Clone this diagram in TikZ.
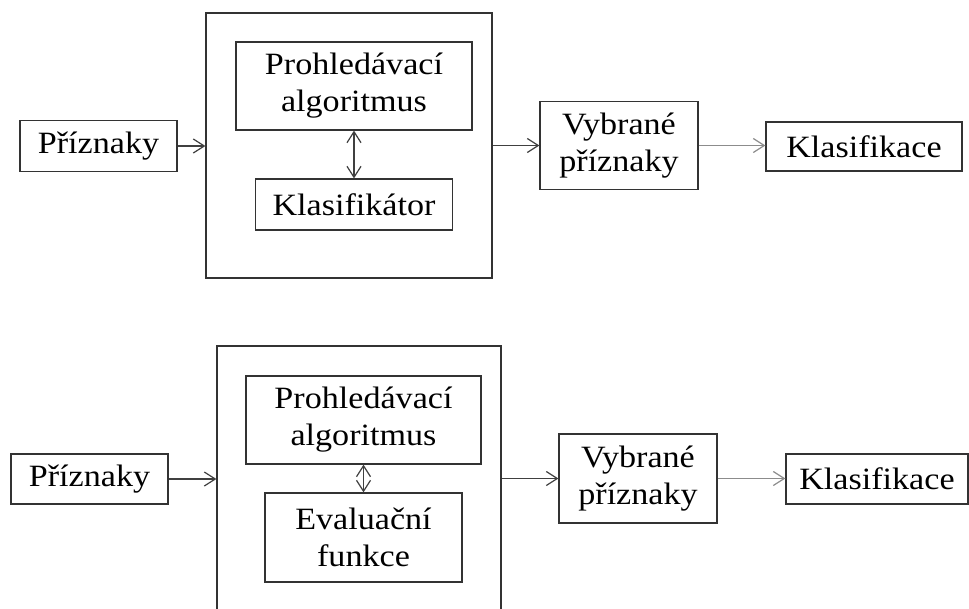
\documentclass[tikz,border=0pt]{standalone}
\usepackage{fontspec}
\setmainfont{Liberation Serif}[FakeStretch=1.1]
\usetikzlibrary{arrows.meta}
\begin{document}
\begin{tikzpicture}[x=1pt,y=-1pt,
  box/.style={draw=black!80, line width=1.2pt, inner sep=0pt, align=center,
    font=\fontsize{31}{37}\selectfont},
  frame/.style={draw=black!80, line width=1.2pt, inner sep=0pt},
  tip/.tip={Straight Barb[length=11pt,width=14pt,line width=1.2pt]},
  arr/.style={-tip, line width=1.2pt, draw=black!75},
  darr/.style={tip-tip, line width=1.2pt, draw=black!75},
  garr/.style={-tip, line width=1.2pt, draw=black!45}
]
\useasboundingbox (0,0) rectangle (969,608);
\clip (0,0) rectangle (969,608);
\fill[white] (0,0) rectangle (969,608);

% ---------- top diagram ----------
\node[frame, minimum width=286, minimum height=265] (big1) at (349,145.5) {};
\node[box, minimum width=157, minimum height=51] (p1) at (98.5,146) {Příznaky};
\node[box, minimum width=236, minimum height=88] (s1) at (354,86) {Prohledávací\\algoritmus};
\node[box, minimum width=197, minimum height=51] (k1) at (354,204.5) {Klasifikátor};
\node[box, minimum width=158, minimum height=88] (v1) at (619,145.5) {Vybrané\\příznaky};
\node[box, minimum width=196, minimum height=49] (c1) at (864,146.5) {Klasifikace};

\draw[arr] (p1.east) -- (p1.east -| big1.west);
\draw[darr] (s1.south) -- (s1.south |- k1.north);
\draw[arr] (big1.east |- v1.west) -- (v1.west);
\draw[garr] (v1.east) -- (v1.east -| c1.west);

% ---------- bottom diagram ----------
\node[frame, minimum width=284, minimum height=280] (big2) at (359,486) {};
\node[box, minimum width=157, minimum height=50] (p2) at (89.5,479) {Příznaky};
\node[box, minimum width=235, minimum height=88] (s2) at (363.5,420) {Prohledávací\\algoritmus};
\node[box, minimum width=197, minimum height=89] (e2) at (363.5,537.5) {Evaluační\\funkce};
\node[box, minimum width=158, minimum height=89] (v2) at (638,478.5) {Vybrané\\příznaky};
\node[box, minimum width=182, minimum height=50] (c2) at (877,479) {Klasifikace};

\draw[arr] (p2.east) -- (p2.east -| big2.west);
\draw[darr] (s2.south) -- (s2.south |- e2.north);
\draw[arr] (big2.east |- v2.west) -- (v2.west);
\draw[garr] (v2.east) -- (v2.east -| c2.west);
\end{tikzpicture}
\end{document}
